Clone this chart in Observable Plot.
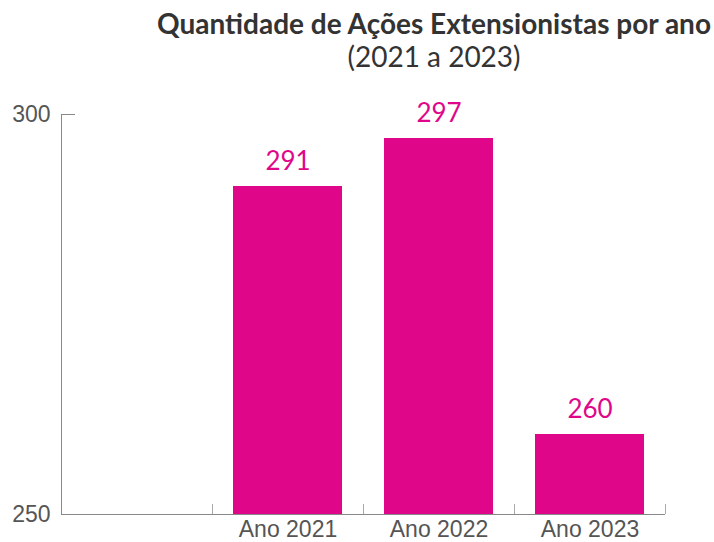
<!DOCTYPE html>
<html>
<head>
<meta charset="utf-8">
<script src="https://cdn.jsdelivr.net/npm/d3@7"></script>
<script src="https://cdn.jsdelivr.net/npm/@observablehq/plot@0.6"></script>
<style>
  html, body { margin: 0; padding: 0; background: #fff; }
  #wrap { width: 714px; height: 542px; overflow: hidden; }
  #head { height: 80px; box-sizing: border-box; padding-top: 5px; padding-right: 3px; text-align: right; }
  #head .blk { display: inline-block; text-align: center; font-family: Lato, sans-serif; color: #333; }
  #head .t { font-size: 28px; font-weight: 700; line-height: 36px; }
  #head .s { font-size: 28px; font-weight: 400; line-height: 30px; }
  svg { overflow: visible; display: block; }
</style>
</head>
<body>
<div id="wrap">
  <div id="head"><div class="blk"><div class="t">Quantidade de Ações Extensionistas por ano</div><div class="s">(2021 a 2023)</div></div></div>
  <div id="chart"></div>
</div>
<script>
const categories = ["", "Ano 2021", "Ano 2022", "Ano 2023"];
const years = ["Ano 2021", "Ano 2022", "Ano 2023"];
const values = [291, 297, 260];
const yTicks = [250, 300];

const data = years.map((c, i) => ({cat: c, value: values[i]}));
const magenta = "#E0068A";
const W = 714, ML = 61, MR = 49;
const bw = (W - ML - MR) / categories.length;

const chart = Plot.plot({
  width: W,
  height: 462,
  marginTop: 34,
  marginBottom: 28,
  marginLeft: ML,
  marginRight: MR,
  x: {domain: categories, padding: 0, label: null},
  y: {domain: [250, 300], label: null},
  style: {fontFamily: "'Liberation Sans', Arial, sans-serif", fontSize: "23px", color: "#555", background: "transparent"},
  marks: [
    Plot.barY(data, {x: "cat", y1: yTicks[0], y2: "value", fill: magenta, insetLeft: 21, insetRight: 21}),
    Plot.text(data, {x: "cat", y: "value", text: d => String(d.value), fill: magenta, lineAnchor: "bottom", dy: -17, fontSize: 26, fontFamily: "Lato, sans-serif"}),
    Plot.axisY(yTicks, {tickSize: 0, tickPadding: 11, fontSize: 23, fill: "#555", label: null}),
    Plot.tickY([yTicks[1]], {y: d => d, x: () => "", insetRight: bw - 14, stroke: "#888"}),
    Plot.ruleY([yTicks[0]], {stroke: "#888"}),
    Plot.ruleX([""], {dx: -bw/2, stroke: "#888"}),
    Plot.ruleX(categories, {x: d => d, y1: 250, y2: 251.25, dx: bw/2, stroke: "#aaa"}),
    Plot.axisX(years, {tickSize: 0, tickPadding: 6, fontSize: 23, fill: "#555", label: null})
  ]
});
document.getElementById("chart").appendChild(chart);
</script>
</body>
</html>
